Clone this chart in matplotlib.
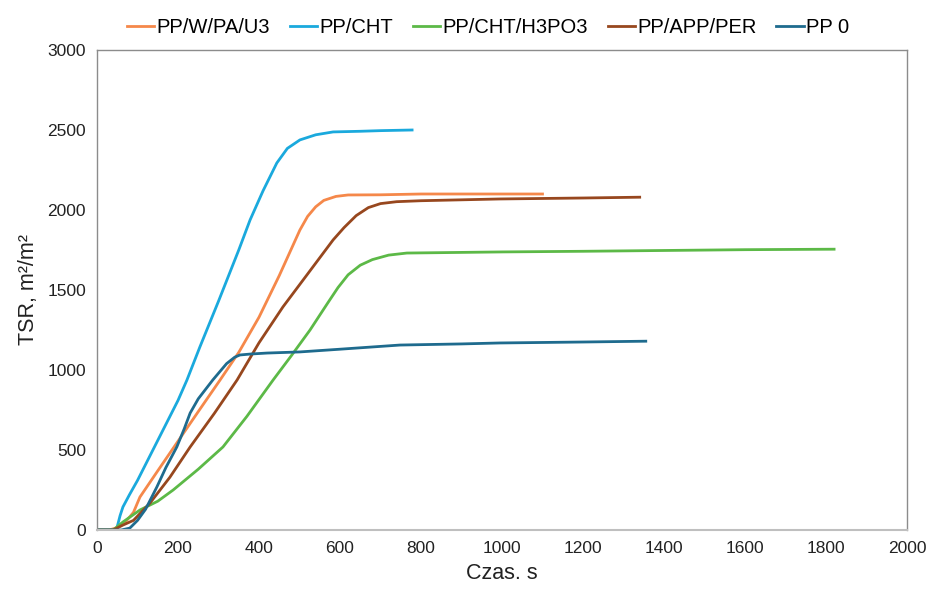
import matplotlib
matplotlib.use("Agg")
import matplotlib.pyplot as plt

# Time (s) and TSR (m2/m2)
t_u3 = [0, 30, 50, 70, 90, 106, 150, 200, 250, 304, 350, 400, 450, 501, 520, 540, 560, 590, 620, 700, 800, 900, 1000, 1100]
tsr_u3 = [0, 0, 15, 50, 110, 206, 370, 555, 740, 938, 1110, 1330, 1590, 1875, 1960, 2020, 2060, 2085, 2094, 2095, 2100, 2100, 2100, 2100]

t_cht = [0, 40, 49, 57, 64, 80, 100, 150, 200, 222, 254, 300, 350, 378, 410, 444, 470, 501, 540, 583, 650, 700, 778]
tsr_cht = [0, 0, 12, 90, 144, 220, 310, 560, 810, 937, 1144, 1430, 1750, 1938, 2120, 2294, 2385, 2438, 2470, 2488, 2492, 2496, 2500]

t_h3po3 = [0, 40, 64, 106, 150, 188, 250, 311, 370, 435, 480, 526, 570, 595, 620, 650, 680, 720, 765, 900, 1000, 1200, 1400, 1600, 1820]
tsr_h3po3 = [0, 0, 50, 125, 180, 250, 380, 519, 710, 938, 1090, 1250, 1420, 1515, 1595, 1655, 1690, 1718, 1731, 1735, 1738, 1742, 1747, 1752, 1755]

t_app = [0, 40, 64, 90, 131, 180, 230, 290, 346, 400, 459, 520, 583, 610, 640, 670, 700, 740, 800, 995, 1200, 1340]
tsr_app = [0, 0, 31, 60, 169, 330, 519, 730, 938, 1170, 1394, 1600, 1813, 1890, 1965, 2015, 2040, 2052, 2058, 2069, 2075, 2080]

t_pp0 = [0, 60, 81, 100, 120, 148, 170, 197, 215, 230, 250, 286, 320, 340, 353, 380, 420, 501, 600, 748, 900, 995, 1200, 1355]
tsr_pp0 = [0, 0, 12, 60, 130, 270, 390, 519, 630, 731, 820, 938, 1040, 1080, 1094, 1100, 1106, 1113, 1130, 1156, 1163, 1169, 1175, 1180]

series = [
    ("PP/W/PA/U3", t_u3, tsr_u3, "#F5884A"),
    ("PP/CHT", t_cht, tsr_cht, "#1AA9DD"),
    ("PP/CHT/H3PO3", t_h3po3, tsr_h3po3, "#5CB947"),
    ("PP/APP/PER", t_app, tsr_app, "#97471E"),
    ("PP 0", t_pp0, tsr_pp0, "#1E6B8E"),
]

plt.rcParams['font.family'] = ['Liberation Sans', 'DejaVu Sans']

fig = plt.figure(figsize=(9.31, 5.91), dpi=100)
ax = fig.add_axes([0.1042, 0.1032, 0.8700, 0.8122])

for name, t, y, c in series:
    ax.plot(t, y, color=c, lw=2.0, label=name, solid_joinstyle='round')

ax.set_xlim(0, 2000)
ax.set_ylim(0, 3000)
ax.set_xticks(range(0, 2001, 200))
ax.set_yticks(range(0, 3001, 500))
ax.tick_params(length=0, labelsize=12.5, colors='#222222', pad=8)

for side in ['left', 'top', 'right']:
    ax.spines[side].set_color('#8C8C8C')
    ax.spines[side].set_linewidth(1.0)
ax.spines['bottom'].set_color('#BFBFBF')
ax.spines['bottom'].set_linewidth(1.5)

ax.set_xlabel("Czas. s", fontsize=15.5, color='#222222', labelpad=5)
ax.set_ylabel("TSR, m²/m²", fontsize=15.5, color='#222222', labelpad=6)

fig.legend(loc='upper center', bbox_to_anchor=(0.524, 1.0), ncol=5, frameon=False,
           fontsize=14.5, handlelength=1.35, handletextpad=0.1, columnspacing=1.0)

fig.savefig("out.png", dpi=100)
